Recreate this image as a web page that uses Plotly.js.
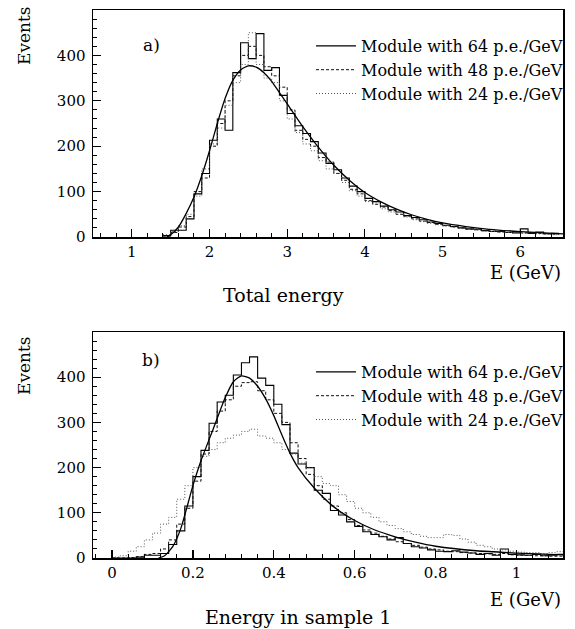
<!DOCTYPE html>
<html>
<head>
<meta charset="utf-8">
<script src="https://cdn.plot.ly/plotly-3.0.1.min.js"></script>
<style>html,body{margin:0;padding:0;background:#fff;}#chart{width:575px;height:629px;}</style>
</head>
<body>
<div id="chart"></div>
<script>
// ---------- Panel a) Total energy ----------
const topBinStart = 1.4;
const topBinWidth = 0.1;
const top64 = [3, 15, 15, 40, 95, 140, 213, 260, 235, 362, 428, 393, 448, 367, 373, 312, 272, 245, 228, 210, 185, 162, 148, 130, 112, 100, 85, 78, 68, 60, 55, 47, 43, 38, 33, 30, 26, 23, 20, 18, 17, 14, 12, 12, 10, 9, 18, 8, 11, 7, 8];
const top48 = [2, 10, 22, 45, 100, 130, 200, 250, 300, 355, 400, 420, 400, 375, 355, 330, 280, 235, 215, 200, 175, 165, 140, 125, 105, 95, 80, 72, 66, 58, 50, 46, 40, 35, 32, 28, 25, 22, 20, 17, 16, 14, 13, 11, 10, 12, 9, 10, 8, 7, 6];
const top24 = [5, 12, 25, 50, 90, 150, 205, 240, 290, 340, 380, 450, 380, 350, 340, 300, 260, 230, 205, 190, 168, 150, 140, 120, 102, 90, 78, 75, 62, 55, 50, 44, 38, 34, 30, 27, 24, 22, 19, 17, 15, 13, 12, 11, 10, 9, 8, 9, 7, 6, 5];
const topCurveX = [1.45, 1.5, 1.6, 1.7, 1.8, 1.9, 2.0, 2.1, 2.2, 2.3, 2.4, 2.5, 2.6, 2.7, 2.8, 2.9, 3.0, 3.2, 3.4, 3.6, 3.8, 4.0, 4.2, 4.4, 4.6, 4.8, 5.0, 5.3, 5.6, 6.0, 6.55];
const topCurveY = [0, 5, 22, 52, 88, 135, 190, 250, 305, 345, 368, 377, 374, 362, 343, 318, 293, 243, 198, 158, 125, 98, 78, 62, 49, 39, 31, 23, 17, 12, 7];
const topXTicks = [1, 2, 3, 4, 5, 6];

// ---------- Panel b) Energy in sample 1 ----------
const botBinStart = 0.0;
const botBinWidth = 0.02;
const bot64 = [0, 0, 0, 2, 6, 6, 10, 30, 60, 115, 180, 238, 298, 345, 360, 405, 432, 445, 398, 382, 340, 295, 232, 208, 200, 150, 143, 105, 95, 80, 70, 58, 52, 47, 40, 45, 32, 25, 22, 18, 15, 14, 16, 13, 11, 8, 10, 6, 20, 8, 7, 6, 8, 5, 6, 8];
const bot48 = [0, 0, 1, 3, 8, 10, 20, 40, 75, 110, 170, 230, 280, 325, 350, 380, 388, 390, 370, 350, 320, 300, 255, 220, 185, 160, 130, 115, 100, 85, 72, 62, 55, 48, 42, 36, 32, 28, 24, 20, 18, 15, 14, 12, 11, 10, 9, 8, 10, 7, 6, 6, 5, 5, 4, 4];
const bot24 = [2, 5, 15, 25, 40, 55, 75, 90, 130, 160, 200, 225, 240, 255, 265, 272, 280, 285, 270, 265, 255, 240, 230, 210, 200, 180, 165, 160, 140, 125, 110, 100, 90, 80, 72, 65, 58, 52, 48, 45, 45, 52, 50, 42, 35, 28, 25, 20, 18, 15, 13, 12, 12, 10, 12, 14];
const botCurveX = [0.115, 0.13, 0.15, 0.17, 0.2, 0.22, 0.25, 0.28, 0.3, 0.32, 0.34, 0.36, 0.38, 0.4, 0.42, 0.44, 0.46, 0.5, 0.55, 0.6, 0.65, 0.7, 0.75, 0.8, 0.9, 1.0, 1.115];
const botCurveY = [0, 5, 25, 65, 160, 215, 285, 355, 390, 403, 398, 380, 352, 315, 272, 232, 200, 155, 112, 83, 62, 47, 35, 26, 16, 11, 7];
const botXTicks = [0, 0.2, 0.4, 0.6, 0.8, 1];
const botXTickText = ['0', '0.2', '0.4', '0.6', '0.8', '1'];

const yTicks = [0, 100, 200, 300, 400];
const seriesNames = ['Module with 64 p.e./GeV', 'Module with 48 p.e./GeV', 'Module with 24 p.e./GeV'];

// step histogram helper: left edges + closing edge
function stepXY(start, width, vals) {
  const x = [], y = [];
  for (let i = 0; i < vals.length; i++) { x.push(+(start + i * width).toFixed(4)); y.push(vals[i]); }
  x.push(+(start + vals.length * width).toFixed(4)); y.push(vals[vals.length - 1]);
  return {x, y};
}

const FONT = 'DejaVu Serif, Liberation Serif, serif';
const styles = [
  {color: '#000', width: 1.1, dash: 'solid'},
  {color: '#111', width: 1.0, dash: '3px,2px'},
  {color: '#555', width: 1.0, dash: '1px,2px'}
];

const traces = [];
function addPanel(start, width, sets, cx, cy, xa, ya, leg) {
  sets.forEach((vals, i) => {
    const s = stepXY(start, width, vals);
    traces.push({x: s.x, y: s.y, type: 'scatter', mode: 'lines', line: {shape: 'hv', color: styles[i].color, width: styles[i].width, dash: styles[i].dash},
      name: seriesNames[i], xaxis: xa, yaxis: ya, legend: leg, showlegend: true, hoverinfo: 'skip'});
  });
  traces.push({x: cx, y: cy, type: 'scatter', mode: 'lines', line: {shape: 'spline', smoothing: 0.6, color: '#000', width: 1.3},
    xaxis: xa, yaxis: ya, showlegend: false, hoverinfo: 'skip'});
}
addPanel(topBinStart, topBinWidth, [top64, top48, top24], topCurveX, topCurveY, 'x', 'y', 'legend');
addPanel(botBinStart, botBinWidth, [bot64, bot48, bot24], botCurveX, botCurveY, 'x2', 'y2', 'legend2');

const W = 575, H = 629, ML = 93, MR = 12;
// paper coords are relative to the plot area (inside margins)
const px = v => (v - ML) / (W - ML - MR), py = v => 1 - v / H;

const axBase = {
  showline: true, linecolor: '#000', linewidth: 1.5, mirror: true,
  ticks: 'inside', ticklen: 8, tickwidth: 1.2, tickcolor: '#000',
  showgrid: false, zeroline: false,
  tickfont: {family: FONT, size: 15, color: '#000'},
  fixedrange: true
};

function ann(text, xPix, yPix, size, extra) {
  return Object.assign({text: text, xref: 'paper', yref: 'paper', x: px(xPix), y: py(yPix), xanchor: 'center', yanchor: 'middle',
    showarrow: false, font: {family: FONT, size: size, color: '#000'}}, extra || {});
}

const layout = {
  width: W, height: H,
  margin: {l: ML, r: MR, t: 0, b: 0},
  paper_bgcolor: '#fff', plot_bgcolor: '#fff',
  showlegend: true,
  xaxis: Object.assign({}, axBase, {domain: [0, 1], anchor: 'y', range: [0.5, 6.55], tickvals: topXTicks,
    minor: {dtick: 0.2, tick0: 0, ticks: 'inside', ticklen: 4, tickcolor: '#000', tickwidth: 1}}),
  yaxis: Object.assign({}, axBase, {domain: [py(237), py(10)], anchor: 'x', range: [0, 500], tickvals: yTicks, ticklabelstandoff: 3,
    minor: {dtick: 20, tick0: 0, ticks: 'inside', ticklen: 4, tickcolor: '#000', tickwidth: 1}}),
  xaxis2: Object.assign({}, axBase, {domain: [0, 1], anchor: 'y2', range: [-0.047, 1.115], tickvals: botXTicks, ticktext: botXTickText,
    minor: {dtick: 0.04, tick0: 0, ticks: 'inside', ticklen: 4, tickcolor: '#000', tickwidth: 1}}),
  yaxis2: Object.assign({}, axBase, {domain: [py(558), py(332)], anchor: 'x2', range: [0, 500], tickvals: yTicks, ticklabelstandoff: 3,
    minor: {dtick: 20, tick0: 0, ticks: 'inside', ticklen: 4, tickcolor: '#000', tickwidth: 1}}),
  legend: {x: px(568), xanchor: 'right', y: py(29), yanchor: 'top', bgcolor: 'rgba(0,0,0,0)', borderwidth: 0,
    font: {family: FONT, size: 16, color: '#000'}, itemwidth: 40, tracegroupgap: 0},
  legend2: {x: px(568), xanchor: 'right', y: py(355), yanchor: 'top', bgcolor: 'rgba(0,0,0,0)', borderwidth: 0,
    font: {family: FONT, size: 16, color: '#000'}, itemwidth: 40, tracegroupgap: 0},
  annotations: [
    ann('Events', 24, 36, 17, {textangle: -90}),
    ann('Events', 24, 366, 17, {textangle: -90}),
    ann('a)', 151, 45, 17),
    ann('b)', 151, 360, 17),
    ann('E (GeV)', 563, 272, 18, {xanchor: 'right'}),
    ann('Total energy', 283, 295, 19),
    ann('E (GeV)', 563, 599, 18, {xanchor: 'right'}),
    ann('Energy in sample 1', 298, 617, 19)
  ]
};

Plotly.newPlot('chart', traces, layout, {staticPlot: true, displayModeBar: false});
</script>
</body>
</html>
